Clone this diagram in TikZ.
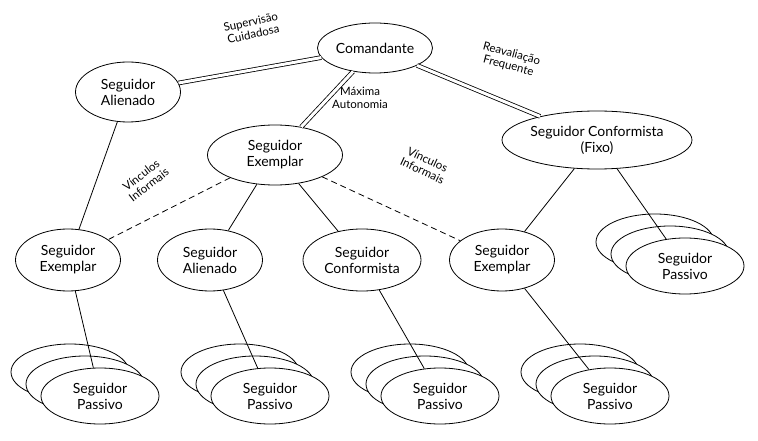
\documentclass[tikz,border=0pt]{standalone}
\usepackage{fontspec}
\setmainfont{Lato}
\usetikzlibrary{shapes.geometric}
\begin{document}
\begin{tikzpicture}[x=1pt,y=-1pt,
 el/.style={ellipse,draw,thick,fill=white,inner sep=0pt,align=center,font=\fontsize{14}{16}\selectfont},
 dbl/.style={draw,thick,double,double distance=3pt},
 lab/.style={font=\fontsize{11.5}{12.5}\selectfont,align=center,inner sep=1pt},
 ln/.style={draw,thick},
 dsh/.style={draw,thick,dash pattern=on 6pt off 4pt}]
\useasboundingbox (0,0) rectangle (758,441);
\node[el,minimum width=115,minimum height=50] (cmd) at (375,48) {Comandante};
\node[el,minimum width=105,minimum height=60] (al) at (128,92) {Seguidor\\Alienado};
\node[el,minimum width=135,minimum height=60] (ex) at (275,155) {Seguidor\\Exemplar};
\node[el,minimum width=190,minimum height=58] (cf) at (597,140) {Seguidor Conformista\\(Fixo)};
\node[el,minimum width=105,minimum height=62] (e1) at (68,260) {Seguidor\\Exemplar};
\node[el,minimum width=105,minimum height=62] (a2) at (210,260) {Seguidor\\Alienado};
\node[el,minimum width=118,minimum height=62] (c2) at (362,260) {Seguidor\\Conformista};
\node[el,minimum width=105,minimum height=62] (e3) at (502,260) {Seguidor\\Exemplar};
\foreach \n/\x/\y in {p1/100/396,p2/270/396,p3/440/396,p4/610/396,p5/685/266}{
 \node[el,minimum width=118,minimum height=56] at (\x-30,\y-24) {};
 \node[el,minimum width=118,minimum height=56] at (\x-15,\y-12) {};
 \node[el,minimum width=118,minimum height=56] (\n) at (\x,\y) {Seguidor\\Passivo};
}
\draw[dbl] (cmd) -- (al);
\draw[dbl] (cmd) -- (ex);
\draw[dbl] (cmd) -- (cf);
\node[lab,rotate=12] at (252,28) {Supervisão\\Cuidadosa};
\node[lab] at (360,98) {Máxima\\Autonomia};
\node[lab,rotate=-15] at (510,60) {Reavaliação\\Frequente};
\draw[ln] (al) -- (e1);
\draw[ln] (ex) -- (a2);
\draw[ln] (ex) -- (c2);
\draw[dsh] (ex) -- (e1);
\draw[dsh] (ex) -- (e3);
\node[lab,rotate=38] at (145,180) {Vínculos\\Informais};
\node[lab,rotate=-25] at (425,165) {Vínculos\\Informais};
\draw[ln] (cf) -- (e3);
\draw[ln] (cf) -- (p5);
\draw[ln] (e1) -- (p1);
\draw[ln] (a2) -- (p2);
\draw[ln] (c2) -- (p3);
\draw[ln] (e3) -- (p4);
\end{tikzpicture}
\end{document}
